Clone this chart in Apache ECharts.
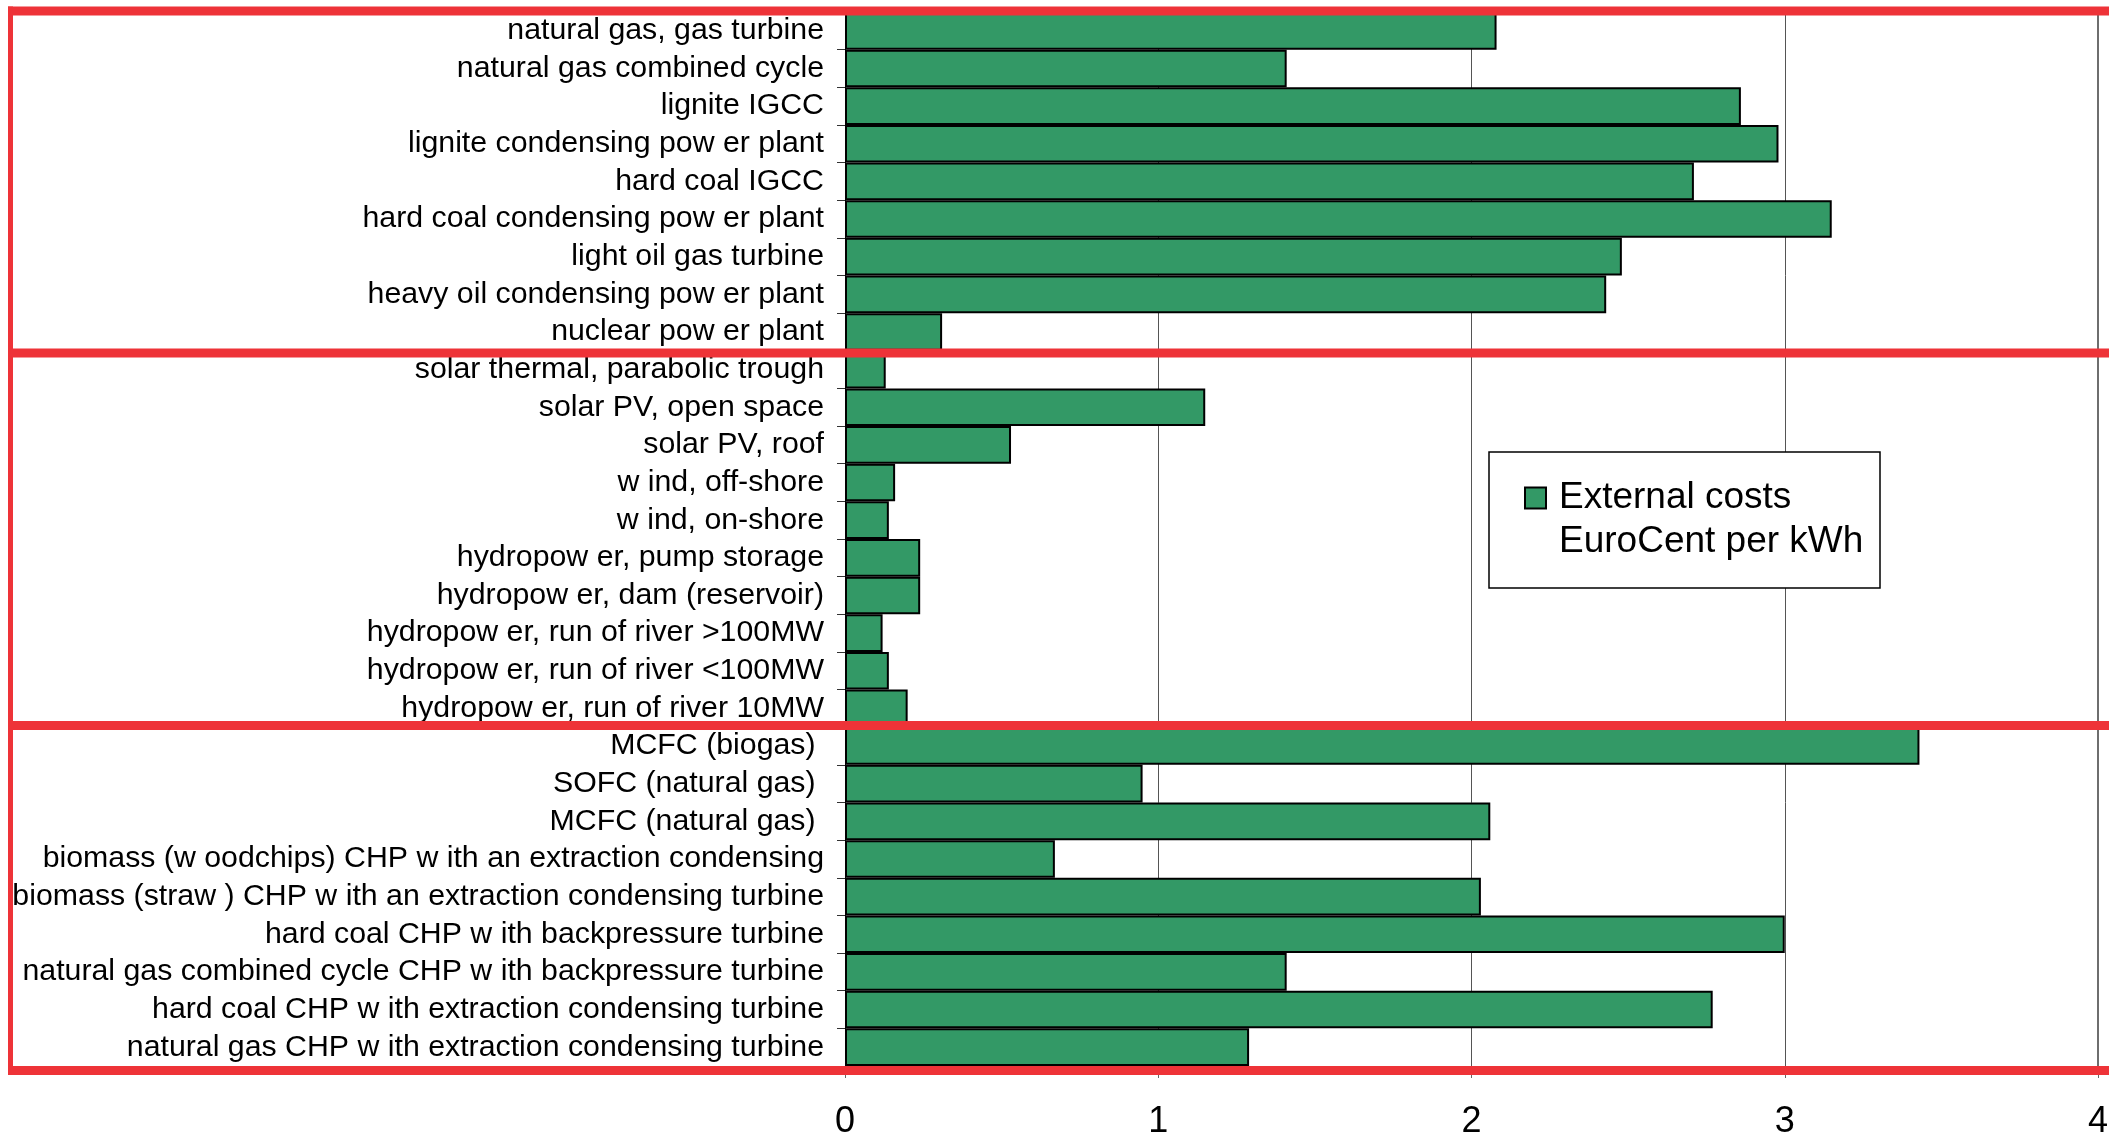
<!DOCTYPE html>
<html>
<head>
<meta charset="utf-8">
<title>External costs of electricity generation</title>
<script src="https://cdn.jsdelivr.net/npm/echarts@6/dist/echarts.min.js"></script>
<style>
  html, body { margin: 0; padding: 0; background: #ffffff; }
  #chart { width: 2109px; height: 1136px; }
</style>
</head>
<body>
<div id="chart"></div>
<script>
// Generation technologies, top to bottom
const categories = [
  'natural gas, gas turbine',
  'natural gas combined cycle',
  'lignite IGCC',
  'lignite condensing pow er plant',
  'hard coal IGCC',
  'hard coal condensing pow er plant',
  'light oil gas turbine',
  'heavy oil condensing pow er plant',
  'nuclear pow er plant',
  'solar thermal, parabolic trough',
  'solar PV, open space',
  'solar PV, roof',
  'w ind, off-shore',
  'w ind, on-shore',
  'hydropow er, pump storage',
  'hydropow er, dam (reservoir)',
  'hydropow er, run of river >100MW',
  'hydropow er, run of river <100MW',
  'hydropow er, run of river 10MW',
  'MCFC (biogas) ',
  'SOFC (natural gas) ',
  'MCFC (natural gas) ',
  'biomass (w oodchips) CHP w ith an extraction condensing',
  'biomass (straw ) CHP w ith an extraction condensing turbine',
  'hard coal CHP w ith backpressure turbine',
  'natural gas combined cycle CHP w ith backpressure turbine',
  'hard coal CHP w ith extraction condensing turbine',
  'natural gas CHP w ith extraction condensing turbine'
];

// External costs, EuroCent per kWh
const externalCosts = [
  2.08, 1.41, 2.86, 2.98, 2.71, 3.15, 2.48, 2.43, 0.31,
  0.13, 1.15, 0.53, 0.16, 0.14, 0.24, 0.24, 0.12, 0.14, 0.20,
  3.43, 0.95, 2.06, 0.67, 2.03, 3.00, 1.41, 2.77, 1.29
];

const legendLines = ['External costs', 'EuroCent per kWh'];
const axisMin = 0;
const axisMax = 4;
const axisStep = 1;

const FONT = '"Liberation Sans", Arial, sans-serif';
const BAR_GREEN = '#339966';
const FRAME_RED = '#ee3338';

const chart = echarts.init(document.getElementById('chart'), null, { renderer: 'canvas' });

// Red frames grouping fossil/nuclear, renewables and CHP/fuel cells
const hLine = (yCenter) => ({
  type: 'rect', silent: true, z: 100,
  shape: { x: 8, y: yCenter - 4.5, width: 2101, height: 9 },
  style: { fill: FRAME_RED }
});

chart.setOption({
  animation: false,
  backgroundColor: '#ffffff',
  grid: {
    left: 845, right: 11, top: 12, bottom: 70,
    containLabel: false,
    outerBoundsMode: 'none'
  },
  xAxis: {
    type: 'value',
    min: axisMin,
    max: axisMax,
    interval: axisStep,
    position: 'bottom',
    axisLine: { show: true, lineStyle: { color: '#000', width: 1 } },
    axisTick: { show: true, length: 12, lineStyle: { color: '#666', width: 1 } },
    axisLabel: { fontSize: 36, fontFamily: FONT, color: '#000', margin: 38 },
    splitLine: { show: true, lineStyle: { color: '#555', width: 1 } }
  },
  yAxis: {
    type: 'category',
    inverse: true,
    data: categories,
    axisLine: { show: true, lineStyle: { color: '#000', width: 1 } },
    axisTick: { show: true, length: 8, lineStyle: { color: '#333', width: 1 } },
    axisLabel: { interval: 0, fontSize: 30.3, fontFamily: FONT, color: '#000', margin: 21 },
    splitLine: { show: false }
  },
  legend: {
    left: 1524,
    top: 432,
    orient: 'vertical',
    data: [legendLines[0]],
    // leading blank line keeps the first text line level with the swatch
    formatter: () => '\n' + legendLines.join('\n'),
    icon: 'rect',
    itemWidth: 21,
    itemHeight: 21,
    itemStyle: { color: BAR_GREEN, borderColor: '#000', borderWidth: 2 },
    textStyle: {
      fontSize: 37, fontFamily: FONT, color: '#000',
      lineHeight: 44, padding: [0, 0, 0, 8]
    },
    padding: 0,
    borderWidth: 0,
    selectedMode: false,
    z: 50
  },
  series: [{
    name: legendLines[0],
    type: 'bar',
    data: externalCosts,
    barCategoryGap: '0%',
    itemStyle: { color: BAR_GREEN, borderColor: '#000', borderWidth: 2 },
    markLine: {
      silent: true,
      symbol: ['none', 'none'],
      label: { show: false },
      lineStyle: { color: '#6e6e6e', width: 2, type: 'solid' },
      data: [{ xAxis: axisMax }]
    }
  }],
  graphic: [
    // legend frame
    {
      type: 'rect', silent: true, z: 40,
      shape: { x: 1489, y: 452, width: 391, height: 136 },
      style: { fill: '#fff', stroke: '#000', lineWidth: 1.5 }
    },
    hLine(11),
    hLine(353),
    hLine(725.5),
    hLine(1070.5),
    {
      type: 'rect', silent: true, z: 100,
      shape: { x: 8, y: 6.5, width: 5, height: 1068.5 },
      style: { fill: FRAME_RED }
    }
  ]
});
</script>
</body>
</html>
